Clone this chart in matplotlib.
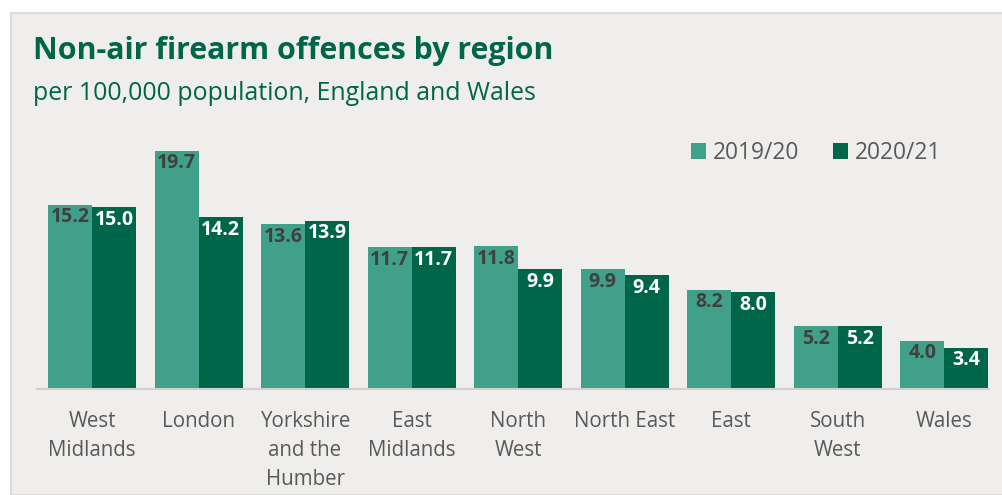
import numpy as np
import matplotlib.pyplot as plt
from matplotlib.patches import Rectangle

plt.rcParams['font.family'] = ['Open Sans', 'DejaVu Sans']

regions = ["West\nMidlands", "London", "Yorkshire\nand the\nHumber", "East\nMidlands",
           "North\nWest", "North East", "East", "South\nWest", "Wales"]
rate_1920 = [15.2, 19.7, 13.6, 11.7, 11.8, 9.9, 8.2, 5.2, 4.0]
rate_2021 = [15.0, 14.2, 13.9, 11.7, 9.9, 9.4, 8.0, 5.2, 3.4]
years = ["2019/20", "2020/21"]

light = "#40a08a"
dark = "#00664a"
bg = "#efeeec"
W, H = 1002, 495

fig = plt.figure(figsize=(W / 100, H / 100), dpi=100, facecolor="white")

# grey panel behind everything
fig.patches.append(Rectangle((11 / W, 0), 1, 1 - 13 / H, transform=fig.transFigure,
                             facecolor=bg, edgecolor="#d6d6d6", linewidth=1.2, zorder=-10))

fig.text(33 / W, 1 - 51 / H, "Non-air firearm offences by region", fontsize=21.9,
         fontweight="bold", color=dark, va="center", ha="left")
fig.text(33 / W, 1 - 93 / H, "per 100,000 population, England and Wales", fontsize=17.9,
         color=dark, va="center", ha="left")

base_px, top_px = 389, 100
ax = fig.add_axes([37 / W, (H - base_px) / H, (989 - 37) / W, (base_px - top_px) / H])
ax.set_facecolor("none")
ppu = 12.1
ax.set_ylim(0, (base_px - top_px) / ppu)
ax.set_xlim(-0.516, 8.42)

x = np.arange(len(regions))
w = 0.413
b1 = ax.bar(x - w / 2, rate_1920, w, color=light, label=years[0])
b2 = ax.bar(x + w / 2, rate_2021, w, color=dark, label=years[1])

for xi, v in zip(x - w / 2, rate_1920):
    ax.text(xi, v - 0.2, f"{v:.1f}", ha="center", va="top", fontsize=14,
            fontweight="bold", color="#404040")
for xi, v in zip(x + w / 2, rate_2021):
    ax.text(xi, v - 0.2, f"{v:.1f}", ha="center", va="top", fontsize=14,
            fontweight="bold", color="white")

for s in ["top", "right", "left"]:
    ax.spines[s].set_visible(False)
ax.spines["bottom"].set_color("#d0d0d0")
ax.spines["bottom"].set_linewidth(1.5)
ax.set_yticks([])
ax.set_xticks(x)
ax.set_xticklabels(regions, fontsize=14.8, color="#595959", linespacing=1.5, va="top")
ax.tick_params(axis="x", length=0, pad=16)

ax.legend(loc="center right", bbox_to_anchor=(941 / W, 1 - 153 / H), bbox_transform=fig.transFigure,
          ncol=2, frameon=False, fontsize=16.4, labelcolor="#595959", handlelength=0.65,
          handleheight=0.65, handletextpad=0.3, columnspacing=1.5, borderpad=0, borderaxespad=0)

fig.savefig("out.png", dpi=100, facecolor=fig.get_facecolor())
